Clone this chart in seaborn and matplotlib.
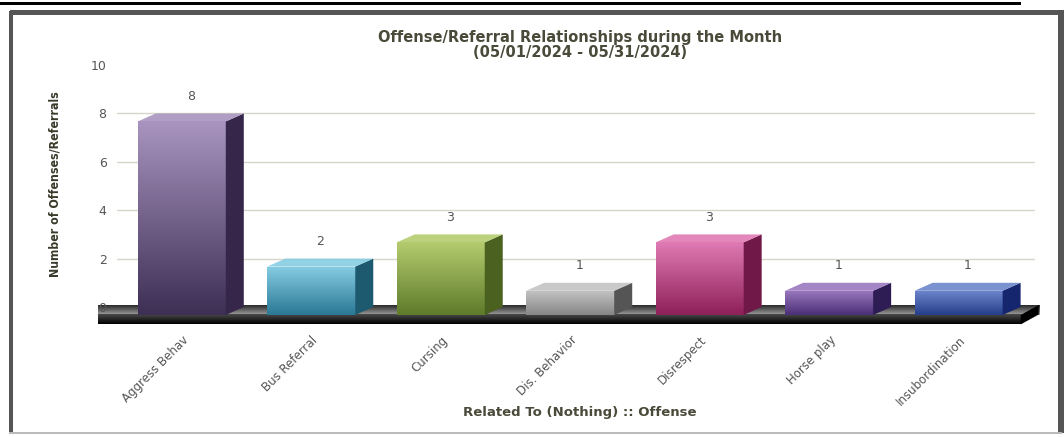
import numpy as np
import pandas as pd
import matplotlib
matplotlib.use('Agg')
import matplotlib.pyplot as plt
from matplotlib.patches import Polygon, Rectangle
from matplotlib.colors import LinearSegmentedColormap
import seaborn as sns

# data
categories = ['Aggress Behav', 'Bus Referral', 'Cursing', 'Dis. Behavior',
              'Disrespect', 'Horse play', 'Insubordination']
counts = [8, 2, 3, 1, 3, 1, 1]
y_ticks = [0, 2, 4, 6, 8, 10]

# colours: light top, dark bottom, side face
top_cols = ['#a894bf', '#86cde3', '#b4cc6e', '#c4c4c4', '#e07ab4', '#9a78c0', '#6d86cc']
bot_cols = ['#3e2f55', '#2a7895', '#5f7b2b', '#868686', '#8e2058', '#4a2f75', '#253e8a']
side_cols = ['#35264a', '#1d5a70', '#4b6120', '#555555', '#701848', '#2e1c55', '#15266e']

df = pd.DataFrame({'cat': categories, 'n': counts})

sns.set_style('white')
fig = plt.figure(figsize=(10.64, 4.37), dpi=100)
ax = fig.add_axes([0.110, 0.256, 0.853, 0.595])

sns.barplot(data=df, x='cat', y='n', hue='cat', palette=dict(zip(categories, bot_cols)),
            legend=False, width=0.68, ax=ax, saturation=1)

dxu, dyu = 0.139, 0.33  # 3d depth in data units
sx0, sx1 = -0.65, 6.48   # base slab ends
sbot = -0.72

# grid lines (back wall)
for t in [2, 4, 6, 8]:
    ax.plot([-0.5, 6.58], [t, t], color='#d6d6c8', lw=1, zorder=0, clip_on=False)

# base slab
top_grad = np.linspace(0, 1, 50).reshape(-1, 1)
slab_top = Polygon([(sx0, -dyu), (sx1, -dyu), (sx1 + dxu, 0.08), (sx0 + dxu, 0.08)],
                   closed=True, fc='#6a6a6a', ec='none', zorder=1, clip_on=False)
ax.add_patch(slab_top)
st = ax.imshow(top_grad, extent=(sx0, sx1 + dxu, -dyu, 0.08), origin='lower',
               cmap=LinearSegmentedColormap.from_list('t', ['#a0a0a0', '#2a2a2a']),
               aspect='auto', zorder=1.2, clip_on=False)
st.set_clip_path(slab_top)
ax.imshow(top_grad, extent=(sx0, sx1, sbot, -dyu), origin='lower',
          cmap=LinearSegmentedColormap.from_list('s', ['#000000', '#4a4a4a']),
          aspect='auto', zorder=1.5, clip_on=False)
ax.add_patch(Polygon([(sx1, -dyu), (sx1 + dxu, 0.08), (sx1 + dxu, sbot + dyu + 0.08), (sx1, sbot)],
                     closed=True, fc='#000000', ec='none', zorder=1.6, clip_on=False))

grad = np.linspace(0, 1, 100).reshape(-1, 1)
for i, cont in enumerate(ax.containers):
    for p in cont:
        p.set_y(-dyu)
        x0 = p.get_x()
        w = p.get_width()
        h = p.get_height()
        x1 = x0 + w
        y0, y1 = -dyu, h - dyu
        p.set_zorder(2)
        p.set_edgecolor('none')
        cmap = LinearSegmentedColormap.from_list('g%d' % i, [bot_cols[i], top_cols[i]])
        g = ax.imshow(grad, extent=(x0, x1, y0, y1), origin='lower', cmap=cmap,
                      aspect='auto', zorder=2.1)
        g.set_clip_path(p)
        # side face
        ax.add_patch(Polygon([(x1, y0), (x1 + dxu, y0 + dyu), (x1 + dxu, y1 + dyu), (x1, y1)],
                             closed=True, fc=side_cols[i], ec='none', zorder=2.2))
        # top face
        ax.add_patch(Polygon([(x0, y1), (x1, y1), (x1 + dxu, y1 + dyu), (x0 + dxu, y1 + dyu)],
                             closed=True, fc=top_cols[i], ec='none', alpha=0.9, zorder=2.2))
        ax.text(x0 + (w + dxu) / 2, h + 0.45, str(counts[i]), ha='center', va='bottom',
                fontsize=9, color='#555555')

ax.set_xlim(-0.5, 6.51)
ax.set_ylim(-0.75, 10)
ax.set_yticks(y_ticks)
ax.set_yticklabels([str(t) for t in y_ticks], fontsize=9, color='#555555')
ax.yaxis.set_zorder(5)
ax.tick_params(axis='y', length=0, pad=7.5)
ax.tick_params(axis='x', length=0, pad=6)
ax.set_xticks(range(len(categories)))
ax.set_xticklabels(categories, rotation=45, ha='right', va='top', rotation_mode='anchor',
                   fontsize=8.5, color='#555555')
for s in ax.spines.values():
    s.set_visible(False)
ax.set_xlabel('')
ax.set_ylabel('Number of Offenses/Referrals', fontsize=8.8, color='#3a3a2a',
              family='DejaVu Sans', fontstretch='condensed', fontweight='bold')
ax.yaxis.set_label_coords(-0.061, 0.542)

fig.text(0.545, 0.898, 'Offense/Referral Relationships during the Month\n(05/01/2024 - 05/31/2024)',
         ha='center', va='center', fontsize=10.5, fontweight='bold', color='#4a4a3a',
         linespacing=1.0)
fig.text(0.545, 0.055, 'Related To (Nothing) :: Offense', ha='center', va='center',
         fontsize=9.5, fontweight='bold', color='#4a4a3a')

# frame
fig.patches.append(Rectangle((0, 0.988), 0.96, 0.008, transform=fig.transFigure,
                             fc='black', ec='none'))
fig.patches.append(Rectangle((0.009, 0.965), 0.991, 0.012, transform=fig.transFigure,
                             fc='#555555', ec='none'))
fig.patches.append(Rectangle((0.008, 0.01), 0.004, 0.965, transform=fig.transFigure,
                             fc='#555555', ec='none'))
fig.patches.append(Rectangle((0.994, 0.01), 0.006, 0.965, transform=fig.transFigure,
                             fc='#555555', ec='none'))
fig.patches.append(Rectangle((0.008, 0.008), 0.99, 0.004, transform=fig.transFigure,
                             fc='#bbbbbb', ec='none'))

fig.savefig('out.png', dpi=100)
